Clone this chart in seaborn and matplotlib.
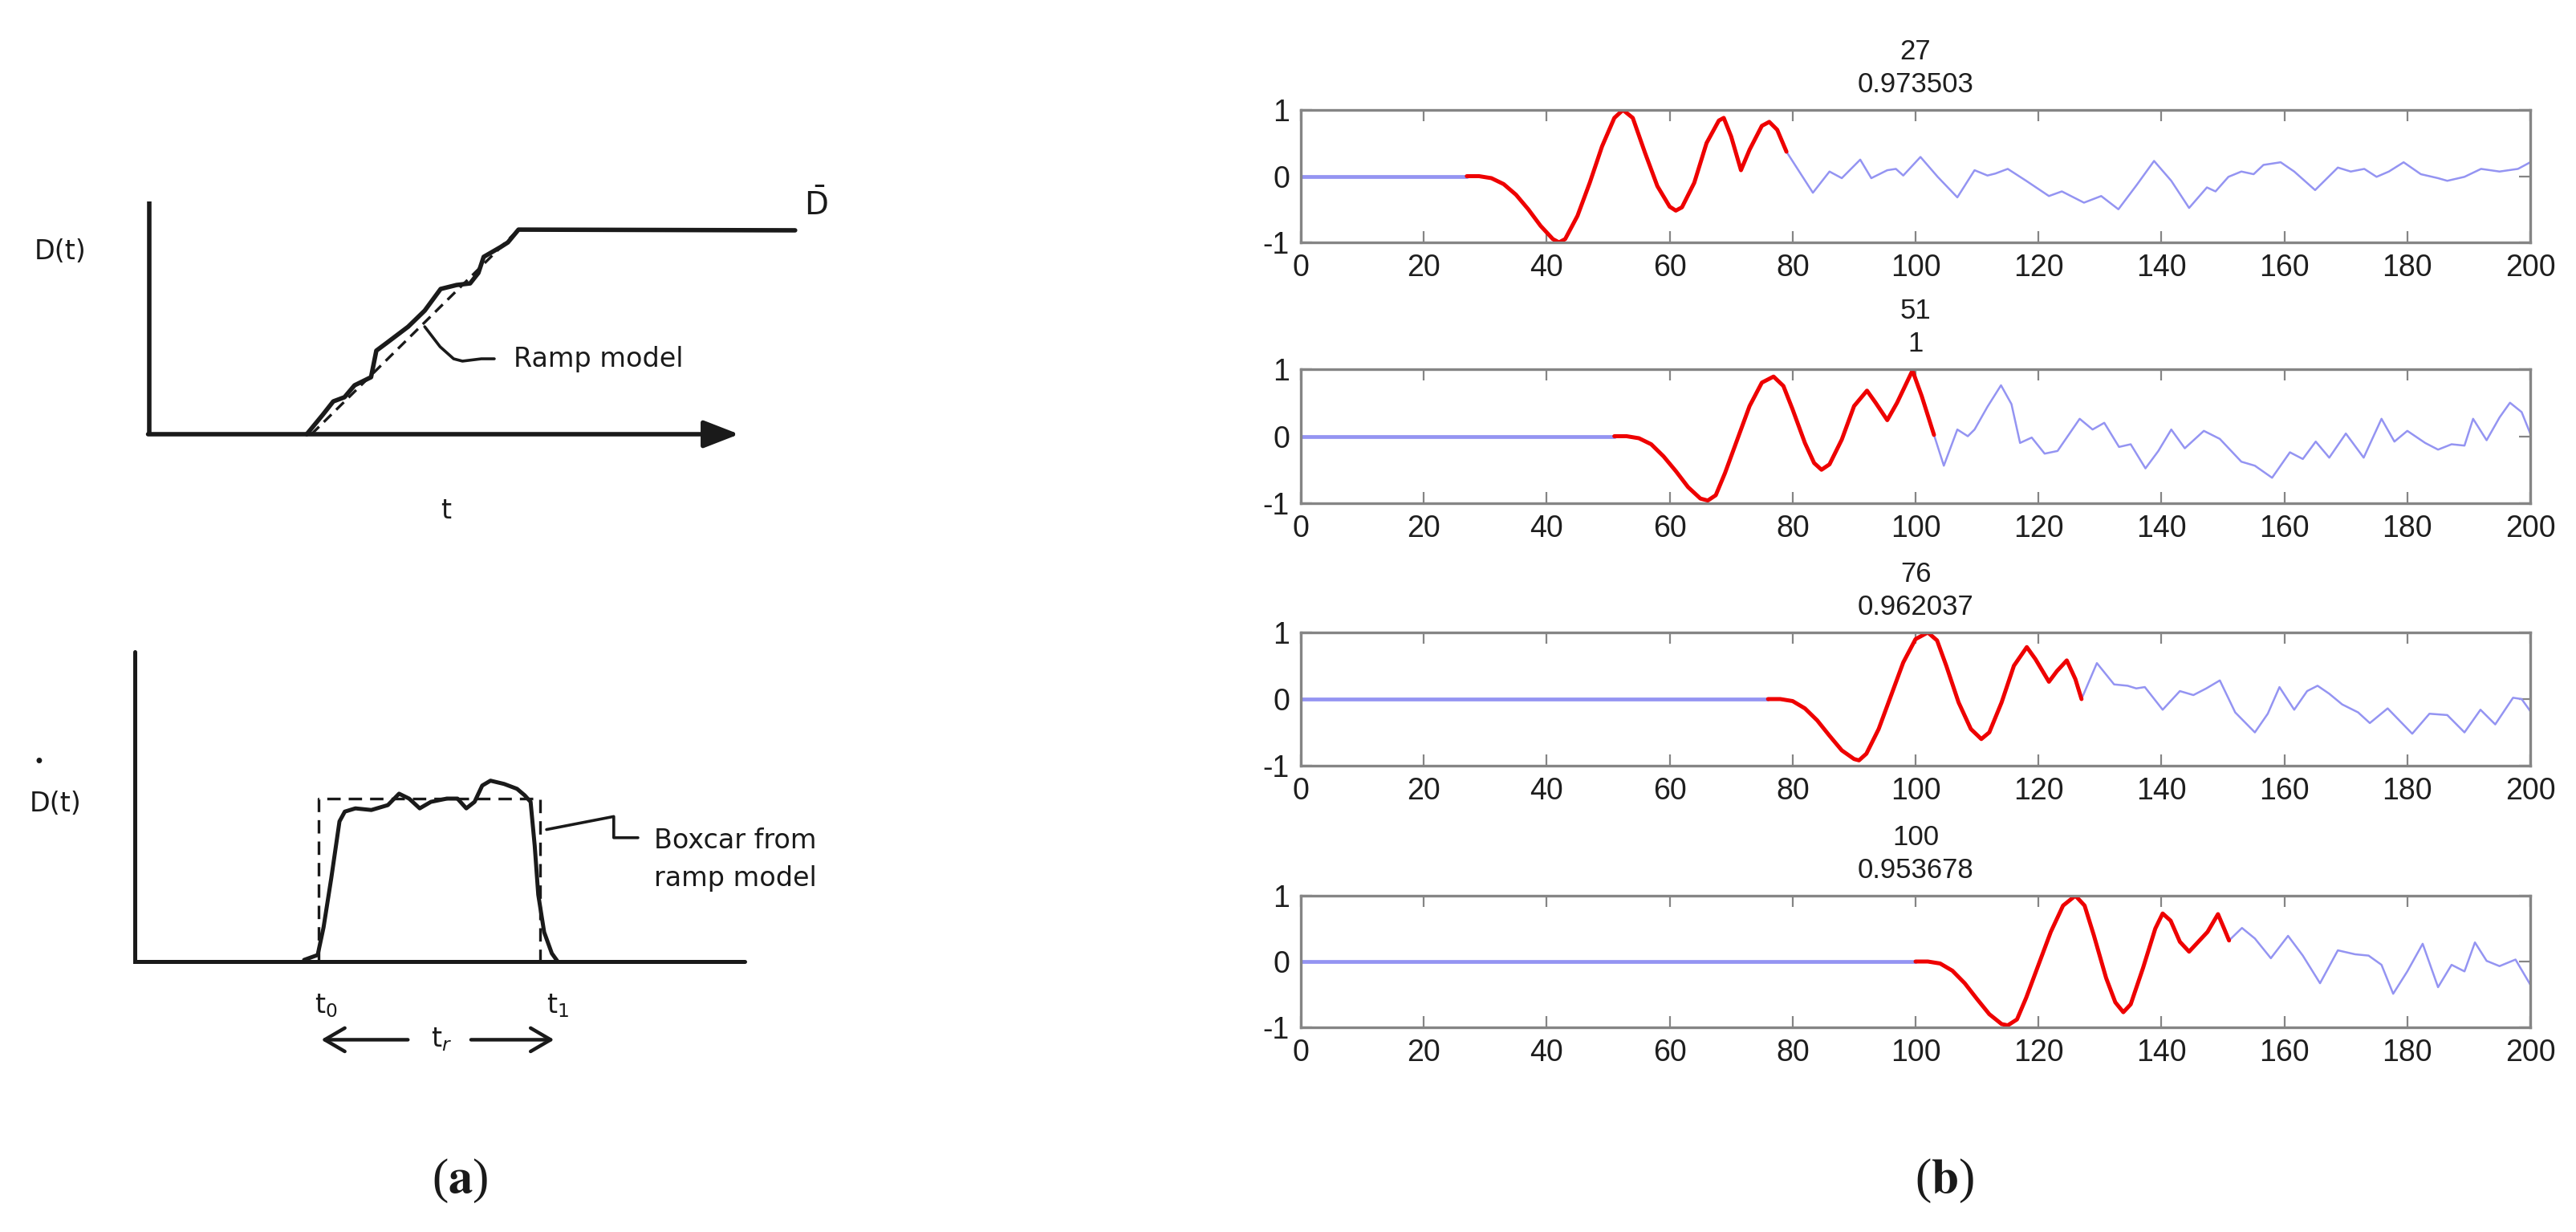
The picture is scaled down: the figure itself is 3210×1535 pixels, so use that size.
import matplotlib
matplotlib.use("Agg")
import matplotlib.pyplot as plt
import seaborn as sns

# ---- (b) four windowed traces: onset, correlation, red window, blue tail ----
onsets = [27, 51, 76, 100]
corr_labels = ["0.973503", "1", "0.962037", "0.953678"]

red1_t = [27, 29, 31, 33, 35, 37, 39, 41, 42, 43, 45, 47, 49, 51, 52.4, 54, 56, 58, 60, 61, 62, 64, 66, 68,
          68.8, 70, 71.6, 73, 75, 76.2, 77.5, 79]
red1_v = [0, 0, -0.03, -0.12, -0.28, -0.5, -0.75, -0.95, -1.0, -0.95, -0.6, -0.1, 0.45, 0.88, 1.0, 0.88, 0.35,
          -0.15, -0.46, -0.52, -0.47, -0.1, 0.5, 0.84, 0.88, 0.6, 0.09, 0.4, 0.76, 0.82, 0.7, 0.37]
red2_t = [51, 53, 55, 57, 59, 61, 63, 65, 66.2, 67.5, 69, 71, 73, 75, 76.9, 78.5, 80, 82, 83.5, 84.7, 86, 88,
          90, 92.1, 93.5, 95.4, 97, 99.5, 101, 103]
red2_v = [0, 0, -0.03, -0.12, -0.3, -0.52, -0.76, -0.93, -0.96, -0.88, -0.55, -0.05, 0.45, 0.8, 0.89, 0.75,
          0.4, -0.1, -0.4, -0.5, -0.42, -0.05, 0.45, 0.68, 0.5, 0.24, 0.5, 0.98, 0.6, 0.02]
red3_t = [76, 78, 80, 82, 84, 86, 88, 90, 90.8, 92, 94, 96, 98, 100, 102, 103.5, 105, 107, 109, 110.7, 112,
          114, 116, 118.1, 119.5, 121.7, 123, 124.6, 126, 127]
red3_v = [0, 0, -0.03, -0.14, -0.32, -0.55, -0.77, -0.9, -0.92, -0.82, -0.45, 0.05, 0.55, 0.9, 1.0, 0.88,
          0.5, -0.05, -0.45, -0.6, -0.5, -0.05, 0.5, 0.78, 0.6, 0.26, 0.42, 0.58, 0.3, 0.0]
red4_t = [100, 102, 104, 106, 108, 110, 112, 114, 115, 116.5, 118, 120, 122, 124, 126, 127.5, 129, 131,
          132.5, 133.8, 135, 137, 139, 140.2, 141.5, 143, 144.5, 146, 147.5, 149.2, 150.2, 151]
red4_v = [0, 0, -0.03, -0.14, -0.33, -0.57, -0.8, -0.95, -0.97, -0.88, -0.55, -0.05, 0.45, 0.85, 1.0, 0.85,
          0.4, -0.25, -0.62, -0.77, -0.65, -0.1, 0.5, 0.73, 0.62, 0.3, 0.15, 0.3, 0.45, 0.72, 0.5, 0.32]

tail1_t = [79, 83.3, 86, 88, 91, 92.8, 95.4, 96.8, 98, 100.8, 103.6, 106.8, 109.6, 111.7, 113, 115, 118,
           121.7, 123.8, 127.4, 130.2, 133, 136, 138.8, 141.6, 144.5, 147.4, 148.8, 150.9, 153, 155, 156.6,
           159.4, 161.6, 165, 168.7, 170.8, 173, 175, 177, 179.4, 182.2, 185, 186.5, 189.3, 192, 195, 198, 200]
tail1_v = [0.37, -0.25, 0.07, -0.03, 0.25, -0.03, 0.09, 0.11, 0.01, 0.29, -0.01, -0.32, 0.09, 0.01, 0.04,
           0.11, -0.07, -0.3, -0.23, -0.4, -0.3, -0.5, -0.13, 0.23, -0.07, -0.48, -0.17, -0.23, -0.01, 0.07,
           0.03, 0.17, 0.21, 0.07, -0.21, 0.13, 0.07, 0.11, -0.01, 0.07, 0.21, 0.03, -0.03, -0.07, -0.01,
           0.11, 0.07, 0.11, 0.21]
tail2_t = [103, 104.6, 106.8, 108.5, 109.6, 111.7, 113.9, 115.6, 117, 118.9, 121, 123.1, 126.7, 128.8,
           130.7, 133.1, 135, 137.4, 139.5, 141.6, 143.8, 146.9, 149.5, 153, 155.2, 158, 160.9, 163, 165.1,
           167.3, 170, 172.9, 175.8, 177.9, 180, 182.9, 185, 187.2, 189.3, 190.7, 192.9, 195, 196.7, 198.6, 200]
tail2_v = [0.02, -0.44, 0.1, 0.0, 0.1, 0.44, 0.76, 0.48, -0.1, -0.02, -0.26, -0.22, 0.26, 0.1, 0.2, -0.16,
           -0.12, -0.48, -0.22, 0.1, -0.18, 0.08, -0.04, -0.38, -0.44, -0.62, -0.24, -0.34, -0.08, -0.32,
           0.04, -0.32, 0.26, -0.08, 0.08, -0.1, -0.2, -0.12, -0.14, 0.26, -0.06, 0.28, 0.5, 0.36, 0.04]
tail3_t = [127, 129.5, 132.3, 134.5, 135.9, 137.3, 140.2, 143, 145.2, 147.3, 149.5, 152, 155.2, 157.3,
           159.2, 161.6, 163.7, 165.4, 167.3, 169.4, 172, 173.9, 176.8, 180.8, 183.6, 186.5, 189.3, 191.9,
           194.3, 197.2, 198.6, 200]
tail3_v = [0.0, 0.54, 0.22, 0.2, 0.16, 0.18, -0.16, 0.12, 0.06, 0.16, 0.28, -0.2, -0.5, -0.22, 0.18, -0.16,
           0.12, 0.2, 0.08, -0.08, -0.2, -0.36, -0.14, -0.52, -0.22, -0.24, -0.5, -0.16, -0.38, 0.02, 0.0, -0.18]
tail4_t = [151, 153.1, 155.2, 157.8, 160.6, 163, 165.8, 168.7, 171.5, 173.7, 175.8, 177.7, 180, 182.5, 185,
           187.2, 189.3, 191, 192.9, 195, 197.6, 200]
tail4_v = [0.32, 0.51, 0.35, 0.05, 0.39, 0.09, -0.33, 0.17, 0.11, 0.09, -0.05, -0.49, -0.15, 0.27, -0.39,
           -0.05, -0.15, 0.29, 0.01, -0.07, 0.03, -0.35]

red_t = [red1_t, red2_t, red3_t, red4_t]
red_v = [red1_v, red2_v, red3_v, red4_v]
tail_t = [tail1_t, tail2_t, tail3_t, tail4_t]
tail_v = [tail1_v, tail2_v, tail3_v, tail4_v]
x_ticks = list(range(0, 201, 20))
y_ticks = [-1, 0, 1]

# ---- (a) schematic curves (t, D in arbitrary units) ----
ramp_t = [2.67, 2.94, 3.12, 3.31, 3.48, 3.76, 3.85, 4.03, 4.39, 4.67, 4.94, 5.21, 5.44, 5.58, 5.67, 5.95,
          6.08, 6.26, 10.95]
ramp_d = [0.0, 0.083, 0.141, 0.159, 0.21, 0.245, 0.359, 0.393, 0.462, 0.531, 0.624, 0.641, 0.648, 0.693,
          0.762, 0.803, 0.824, 0.879, 0.876]
ramp_model_t = [2.75, 6.26]
ramp_model_d = [0.0, 0.879]

rate_t = [2.87, 3.10, 3.20, 3.33, 3.47, 3.56, 3.74, 4.01, 4.29, 4.48, 4.65, 4.83, 5.02, 5.29, 5.47, 5.62,
          5.76, 5.89, 6.03, 6.26, 6.48, 6.61, 6.71, 6.78, 6.84, 6.94, 7.07, 7.17]
rate_d = [0.01, 0.04, 0.21, 0.51, 0.86, 0.92, 0.94, 0.93, 0.96, 1.03, 1.0, 0.94, 0.98, 1.0, 1.0, 0.94, 0.98,
          1.08, 1.11, 1.09, 1.06, 1.02, 0.98, 0.71, 0.41, 0.18, 0.05, 0.0]
box_t0, box_t1, box_h = 3.12, 6.87, 1.0

BLUE = "#9494f2"
RED = "#ee0000"
FRAME = "#858585"
TXT = "#1e1e1e"

sns.set_theme(style="white")
plt.rcParams["font.family"] = ["Liberation Sans", "DejaVu Sans"]
plt.rcParams["axes.unicode_minus"] = False
plt.rcParams["mathtext.fontset"] = "dejavusans"

W, H = 3210, 1535
fig = plt.figure(figsize=(W / 100, H / 100), dpi=100)


def px_axes(x0, y0, x1, y1):
    return fig.add_axes([x0 / W, 1 - y1 / H, (x1 - x0) / W, (y1 - y0) / H])


# ---------------- (b) ----------------
tops = [137, 460, 788, 1116]
bottoms = [302, 627, 954, 1280]
for i in range(4):
    ax = px_axes(1621, tops[i], 3153, bottoms[i])
    sns.lineplot(x=[0, onsets[i]], y=[0, 0], color=BLUE, lw=3.4, ax=ax, estimator=None, sort=False)
    sns.lineplot(x=tail_t[i], y=tail_v[i], color=BLUE, lw=1.8, ax=ax, estimator=None, sort=False)
    sns.lineplot(x=red_t[i], y=red_v[i], color=RED, lw=3.6, ax=ax, estimator=None, sort=False)
    ax.set(xlim=(0, 200), ylim=(-1, 1), xticks=x_ticks, yticks=y_ticks, xlabel="", ylabel="")
    for s in ax.spines.values():
        s.set_visible(True)
        s.set_color(FRAME)
        s.set_linewidth(2.4)
    ax.tick_params(direction="in", length=10, width=1.6, color=FRAME, top=True, right=True,
                   bottom=True, left=True, labelsize=27, pad=10, labelcolor=TXT)
    ax.set_title(f"{onsets[i]}\n{corr_labels[i]}", fontsize=25, pad=16, linespacing=1.3, color=TXT)

# ---------------- (a) top: D(t) ----------------
a1 = px_axes(186, 251, 1000, 541)
a1.set(xlim=(0, 11.075), ylim=(0, 1))
a1.axis("off")
a1.plot([0, 0], [0, 1.0], color="k", lw=4.0, clip_on=False, solid_capstyle="butt")
a1.annotate("", xy=(10.0, 0), xytext=(-0.02, 0), annotation_clip=False,
            arrowprops=dict(arrowstyle="-|>,head_length=0.9,head_width=0.35", lw=4.0, color="k",
                            mutation_scale=30, shrinkA=0, shrinkB=0))
sns.lineplot(x=ramp_t, y=ramp_d, color="k", lw=4.0, ax=a1, estimator=None, sort=False, clip_on=False)
sns.lineplot(x=ramp_model_t, y=ramp_model_d, color="k", lw=2.4, ax=a1, estimator=None, sort=False,
             clip_on=False, linestyle=(0, (4, 2.5)))
a1.plot([4.67, 4.93, 5.16, 5.31, 5.63, 5.85], [0.462, 0.376, 0.324, 0.314, 0.324, 0.324],
        color="k", lw=2.6, clip_on=False)
lbl = dict(family="DejaVu Sans", fontsize=24, color="k")
a1.text(-1.51, 0.786, "D(t)", ha="center", va="center", **lbl)
a1.text(11.3, 0.985, r"$\bar{\mathrm{D}}$", ha="center", va="center", family="DejaVu Sans",
        fontsize=28, color="k")
a1.text(6.18, 0.324, "Ramp model", ha="left", va="center", **lbl)
a1.text(5.03, -0.331, "t", ha="center", va="center", **lbl)

# ---------------- (a) bottom: slip rate ----------------
a2 = px_axes(168, 995, 982, 1198)
a2.set(xlim=(0, 11.075), ylim=(0, 1))
a2.axis("off")
a2.plot([0, 0, 10.34], [1.90, 0, 0], color="k", lw=3.6, clip_on=False, solid_joinstyle="miter")
sns.lineplot(x=[box_t0, box_t0, box_t1, box_t1], y=[0, box_h, box_h, 0], color="k", lw=2.4, ax=a2,
             estimator=None, sort=False, clip_on=False, linestyle=(0, (5, 3)))
sns.lineplot(x=rate_t, y=rate_d, color="k", lw=3.6, ax=a2, estimator=None, sort=False, clip_on=False)
a2.plot([6.98, 8.12, 8.12, 8.53], [0.81, 0.89, 0.76, 0.76], color="k", lw=2.6, clip_on=False)
a2.text(8.80, 0.74, "Boxcar from", ha="left", va="center", **lbl)
a2.text(8.80, 0.51, "ramp model", ha="left", va="center", **lbl)
a2.text(-1.35, 0.97, "D(t)", ha="center", va="center", **lbl)
a2.text(-1.62, 1.22, "\u2022", ha="center", va="center", family="DejaVu Sans", fontsize=17, color="k")
a2.text(3.24, -0.27, r"$\mathrm{t}_0$", ha="center", va="center", **lbl)
a2.text(7.17, -0.27, r"$\mathrm{t}_1$", ha="center", va="center", **lbl)
a2.text(5.2, -0.48, r"$\mathrm{t}_r$", ha="center", va="center", **lbl)
arrow = dict(arrowstyle="->,head_length=0.6,head_width=0.35", lw=3.2, color="k",
             mutation_scale=30, shrinkA=0, shrinkB=0)
a2.annotate("", xy=(3.16, -0.48), xytext=(4.63, -0.48), annotation_clip=False, arrowprops=arrow)
a2.annotate("", xy=(7.11, -0.48), xytext=(5.70, -0.48), annotation_clip=False, arrowprops=arrow)

# ---------------- panel letters ----------------
for xpx, letter in [(573, "a"), (2423, "b")]:
    fig.text(xpx / W, 1 - 1471 / H, "($\\mathbf{" + letter + "}$)", ha="center", va="center",
             fontsize=44, family="Liberation Serif", math_fontfamily="stix", color="k")

fig.savefig("out.png", dpi=100, facecolor="white")
